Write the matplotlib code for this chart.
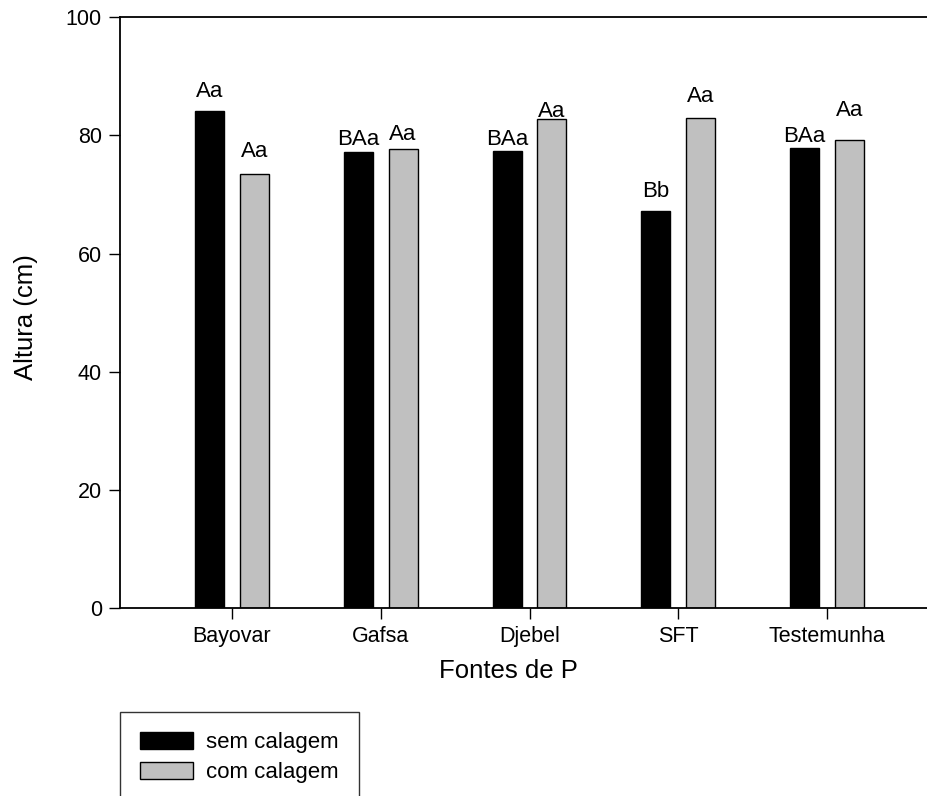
import matplotlib
matplotlib.use("Agg")
import matplotlib.pyplot as plt
import numpy as np

plt.rcParams['font.family'] = ['Liberation Sans', 'DejaVu Sans']

categories = ["Bayovar", "Gafsa", "Djebel", "SFT", "Testemunha"]
sem_calagem = [84.2, 77.2, 77.3, 67.2, 77.8]
com_calagem = [73.5, 77.7, 82.7, 82.9, 79.3]
sem_letters = ["Aa", "BAa", "BAa", "Bb", "BAa"]
com_letters = ["Aa", "Aa", "Aa", "Aa", "Aa"]
sem_label_y = [86.5, 78.3, 78.3, 69.6, 78.9]
com_label_y = [76.4, 79.2, 83.1, 85.7, 83.3]
series_names = ["sem calagem", "com calagem"]
y_ticks = [0, 20, 40, 60, 80, 100]

W, H = 928, 796
fig = plt.figure(figsize=(W / 100, H / 100), dpi=100)

left, right, top, bottom = 120, 939, 17.3, 608
ax = fig.add_axes([left / W, 1 - bottom / H, (right - left) / W, (bottom - top) / H])

x = np.arange(len(categories))
bw = 0.195
off = 0.15
b1 = ax.bar(x - off, sem_calagem, bw, color="black", edgecolor="black", linewidth=1.0, label=series_names[0])
b2 = ax.bar(x + off, com_calagem, bw, color="#c0c0c0", edgecolor="black", linewidth=1.0, label=series_names[1])

for xi, t, yv in zip(x - off, sem_letters, sem_label_y):
    ax.text(xi, yv, t, ha="center", va="baseline", fontsize=16)
for xi, t, yv in zip(x + off, com_letters, com_label_y):
    ax.text(xi, yv, t, ha="center", va="baseline", fontsize=16)

ax.set_xlim(-0.753, 4.753)
ax.set_ylim(0, 100)
ax.set_xticks(x)
ax.set_xticklabels(categories)
ax.set_yticks(y_ticks)
ax.tick_params(axis="both", direction="out", length=8, width=1.0, labelsize=15.5, pad=5)
for s in ["left", "top", "bottom", "right"]:
    ax.spines[s].set_linewidth(1.3)

fig.text(26 / W, 1 - 316.7 / H, "Altura (cm)", rotation=90, ha="center", va="center", fontsize=18.5)
fig.text(508 / W, 1 - 671 / H, "Fontes de P", ha="center", va="center", fontsize=18.5)

leg = fig.legend(handles=[b1, b2], labels=series_names, loc="upper left",
                 bbox_to_anchor=(120 / W, 1 - 712 / H), fontsize=16,
                 frameon=True, fancybox=False, shadow=False, edgecolor="black",
                 borderpad=0.9, handlelength=2.4, handleheight=0.8,
                 handletextpad=0.57, labelspacing=0.38, borderaxespad=0)
leg.get_frame().set_linewidth(1.0)

fig.savefig("out.png", dpi=100)
